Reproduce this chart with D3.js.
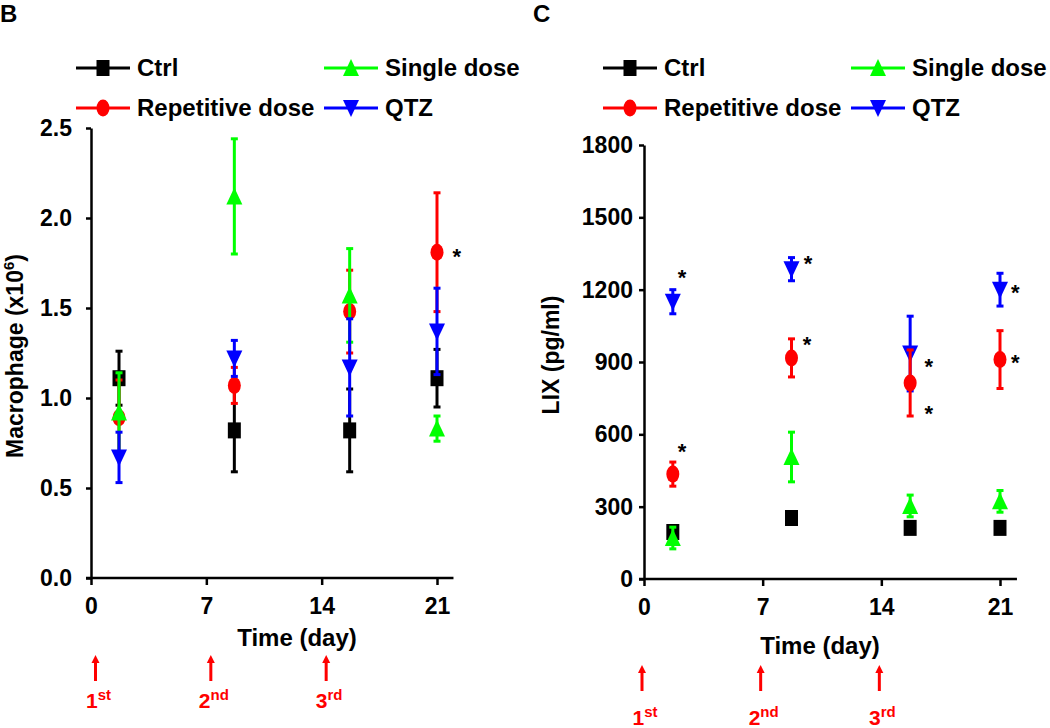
<!DOCTYPE html>
<html>
<head>
<meta charset="utf-8">
<script src="https://cdn.jsdelivr.net/npm/d3@7"></script>
<style>
  body { margin: 0; background: #fff; }
  text { font-family: "Liberation Sans", Arial, sans-serif; font-weight: bold; }
</style>
</head>
<body>
<script>
// sampling days (x) and axis ticks
var days = [1.7, 8.7, 15.7, 21];
var xTicks = [0, 7, 14, 21];
var doseDays = [0, 7, 14];
var doseLabels = [["1", "st"], ["2", "nd"], ["3", "rd"]];
var seriesNames = ["Ctrl", "Single dose", "Repetitive dose", "QTZ"];

// panel B - macrophage (x10^6), mean and error
var macroTicks = [0, 0.5, 1.0, 1.5, 2.0, 2.5];
var macroCtrl = [1.11, 0.82, 0.82, 1.11];
var macroCtrlErr = [0.15, 0.23, 0.23, 0.16];
var macroSingle = [0.92, 2.12, 1.57, 0.83];
var macroSingleErr = [0.22, 0.32, 0.26, 0.07];
var macroRep = [0.89, 1.07, 1.48, 1.81];
var macroRepErr = [0.21, 0.10, 0.23, 0.33];
var macroQtz = [0.67, 1.22, 1.17, 1.37];
var macroQtzErr = [0.14, 0.10, 0.27, 0.24];
var macroStars = [[22.2, 1.81]];

// panel C - LIX (pg/ml), mean and error
var lixTicks = [0, 300, 600, 900, 1200, 1500, 1800];
var lixCtrl = [195, 253, 212, 212];
var lixCtrlErr = [15, 15, 15, 15];
var lixSingle = [170, 506, 303, 322];
var lixSingleErr = [45, 103, 45, 45];
var lixRep = [435, 917, 813, 910];
var lixRepErr = [50, 79, 137, 120];
var lixQtz = [1150, 1285, 935, 1200];
var lixQtzErr = [50, 48, 155, 68];
var lixStars = [[2.24, 1270], [9.68, 1328], [9.62, 992], [16.8, 900], [16.8, 705],
                [21.9, 1207], [21.9, 917], [2.24, 548]];

var colors = ["#000000", "#00ff00", "#ff0000", "#0000ff"];
var shapes = ["square", "up", "circle", "down"];

var W = 1050, H = 728;
var svg = d3.select("body").append("svg").attr("width", W).attr("height", H);

function markerPath(type) {
  var w = 14, h = 16;
  if (type == "square") { w = 13; }
  if (type == "square") return "M" + (-w/2) + "," + (-h/2) + "h" + w + "v" + h + "h" + (-w) + "Z";
  if (type == "up") return "M0," + (-h/2 - 1) + "L" + (w/2 + 1) + "," + (h/2) + "L" + (-w/2 - 1) + "," + (h/2) + "Z";
  if (type == "down") return "M0," + (h/2 + 1) + "L" + (w/2 + 1) + "," + (-h/2) + "L" + (-w/2 - 1) + "," + (-h/2) + "Z";
  return null;
}

function drawMarker(g, type, color, cx, cy) {
  if (type == "circle") {
    g.append("ellipse").attr("cx", cx).attr("cy", cy).attr("rx", 6.5).attr("ry", 8.5).attr("fill", color);
  } else {
    g.append("path").attr("d", markerPath(type)).attr("transform", "translate(" + cx + "," + cy + ")").attr("fill", color);
  }
}

function drawPanel(cfg) {
  var g = svg.append("g");
  var x = d3.scaleLinear().domain([0, 21]).range(cfg.xRange);
  var y = d3.scaleLinear().domain([0, cfg.yTicks[cfg.yTicks.length - 1]]).range(cfg.yRange);

  // panel letter
  g.append("text").attr("x", cfg.letterX).attr("y", 22).attr("font-size", 24).text(cfg.letter);

  // legend
  seriesNames.forEach(function(name, i) {
    var col = i % 2 == 0 ? 0 : 1;
    var row = [0, 0, 1, 1][i];
    var lx = cfg.legendX[col], ly = 68 + row * 40;
    g.append("line").attr("x1", lx).attr("x2", lx + 54).attr("y1", ly).attr("y2", ly)
      .attr("stroke", colors[i]).attr("stroke-width", 3);
    drawMarker(g, shapes[i], colors[i], lx + 27, ly);
    g.append("text").attr("x", lx + 61).attr("y", ly + 8).attr("font-size", 24).text(name);
  });

  // y axis
  var ya = g.append("g").attr("transform", "translate(" + cfg.xRange[0] + ",0)")
    .call(d3.axisLeft(y).tickValues(cfg.yTicks).tickFormat(cfg.yFmt)
      .tickSize(5).tickPadding(cfg.yPad).tickSizeOuter(0));
  // x axis
  var xa = g.append("g").attr("transform", "translate(0," + cfg.yRange[0] + ")")
    .call(d3.axisBottom(x).tickValues(xTicks).tickSize(7).tickPadding(13).tickSizeOuter(0));
  xa.select(".domain").remove();
  g.append("line").attr("x1", cfg.xRange[0] - 5).attr("x2", x(22)).attr("y1", cfg.yRange[0]).attr("y2", cfg.yRange[0])
    .attr("stroke", "#000").attr("stroke-width", 2.5);
  [ya, xa].forEach(function(a) {
    a.selectAll("path, line").attr("stroke", "#000").attr("stroke-width", 2.5);
    a.selectAll("text").attr("font-size", 23).attr("fill", "#000")
      .attr("font-family", '"Liberation Sans", Arial, sans-serif').attr("font-weight", "bold");
  });

  // axis titles
  var yl = g.append("text").attr("transform", "translate(" + cfg.yLabelX + "," + cfg.yLabelY + ") rotate(-90)")
    .attr("text-anchor", "middle").attr("font-size", 23);
  yl.append("tspan").text(cfg.yLabel);
  if (cfg.yLabelSup) {
    yl.append("tspan").attr("font-size", 15).attr("dy", -9).text(cfg.yLabelSup);
    yl.append("tspan").attr("dy", 9).text(")");
  }
  g.append("text").attr("x", cfg.xLabelX).attr("y", cfg.xLabelY).attr("text-anchor", "middle")
    .attr("font-size", 24).text("Time (day)");

  // data series
  cfg.order.forEach(function(i) {
    var sg = g.append("g");
    cfg.means[i].forEach(function(m, j) {
      var e = cfg.errs[i][j];
      var cx = x(days[j]);
      sg.append("line").attr("x1", cx).attr("x2", cx).attr("y1", y(m - e)).attr("y2", y(m + e))
        .attr("stroke", colors[i]).attr("stroke-width", 3);
      [m - e, m + e].forEach(function(v) {
        sg.append("line").attr("x1", cx - 3.5).attr("x2", cx + 3.5).attr("y1", y(v)).attr("y2", y(v))
          .attr("stroke", colors[i]).attr("stroke-width", 3);
      });
      drawMarker(sg, shapes[i], colors[i], cx, y(m));
    });
  });

  // significance stars
  cfg.stars.forEach(function(s) {
    g.append("text").attr("x", x(s[0])).attr("y", y(s[1]) + 12).attr("text-anchor", "middle")
      .attr("font-size", 22).text("*");
  });

  // dose arrows
  doseDays.forEach(function(d, i) {
    var ax = x(d) + cfg.arrowDx;
    g.append("line").attr("x1", ax).attr("x2", ax).attr("y1", cfg.arrowY[1]).attr("y2", cfg.arrowY[0] + 6)
      .attr("stroke", "#ff0000").attr("stroke-width", 3);
    g.append("path").attr("d", "M" + ax + "," + cfg.arrowY[0] + "l4,8h-8Z").attr("fill", "#ff0000");
    var t = g.append("text").attr("x", ax + 3).attr("y", cfg.arrowY[2]).attr("text-anchor", "middle")
      .attr("fill", "#ff0000").attr("font-size", 21);
    t.append("tspan").text(doseLabels[i][0]);
    t.append("tspan").attr("font-size", 15).attr("dy", -8).text(doseLabels[i][1]);
  });
}

drawPanel({
  letter: "B", letterX: 0,
  xRange: [91, 437], yRange: [578, 128],
  yTicks: macroTicks, yFmt: d3.format(".1f"), yPad: 14,
  legendX: [76, 324],
  yLabel: "Macrophage (x10", yLabelSup: "6", yLabelX: 23, yLabelY: 356,
  xLabelX: 297, xLabelY: 646,
  means: [macroCtrl, macroSingle, macroRep, macroQtz],
  errs: [macroCtrlErr, macroSingleErr, macroRepErr, macroQtzErr],
  order: [0, 2, 1, 3],
  stars: macroStars,
  arrowDx: 4.5, arrowY: [655, 681, 708]
});

drawPanel({
  letter: "C", letterX: 533,
  xRange: [644, 1000], yRange: [579, 145],
  yTicks: lixTicks, yFmt: d3.format("d"), yPad: 6,
  legendX: [603, 851],
  yLabel: "LIX (pg/ml)", yLabelX: 559, yLabelY: 355,
  xLabelX: 820, xLabelY: 654,
  means: [lixCtrl, lixSingle, lixRep, lixQtz],
  errs: [lixCtrlErr, lixSingleErr, lixRepErr, lixQtzErr],
  order: [0, 1, 3, 2],
  stars: lixStars,
  arrowDx: -2, arrowY: [665, 691, 725]
});
</script>
</body>
</html>
